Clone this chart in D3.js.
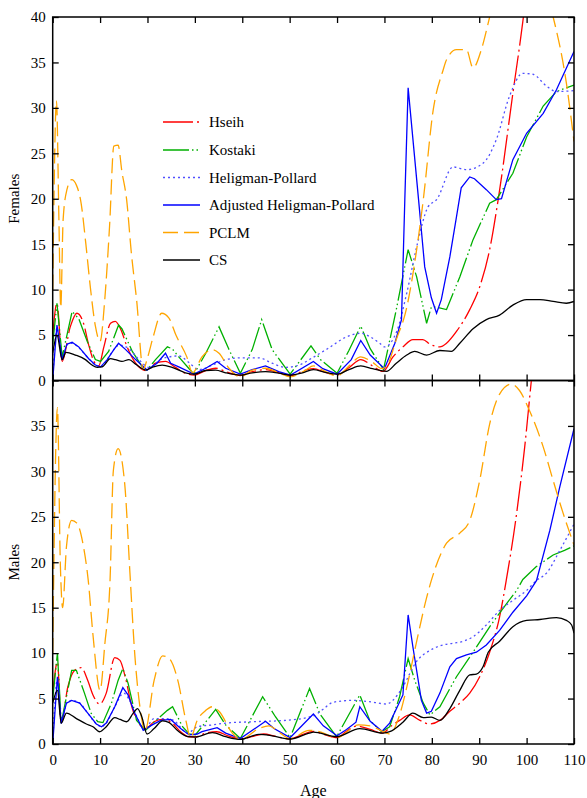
<!DOCTYPE html>
<html>
<head>
<meta charset="utf-8">
<script src="https://cdn.jsdelivr.net/npm/d3@7"></script>
<style>
  html, body { margin: 0; padding: 0; background: #fff; }
  svg { display: block; }
  svg text { font-family: "Liberation Serif", "Times New Roman", serif; fill: #000; }
</style>
</head>
<body>
<svg id="chart" width="587" height="798"></svg>
<script>
// ---- data: [age, value] pairs per method ----
const xTicks = [0, 10, 20, 30, 40, 50, 60, 70, 80, 90, 100, 110];
const yTicksFemales = [0, 5, 10, 15, 20, 25, 30, 35, 40];
const yTicksMales = [0, 5, 10, 15, 20, 25, 30, 35];
const methodNames = ["Hseih", "Kostaki", "Heligman-Pollard", "Adjusted Heligman-Pollard", "PCLM", "CS"];

const femHseih = [[0,5],[0.9,8.5],[2,2.1],[3.7,5.9],[5.1,7.4],[6.5,6.3],[7.6,3.9],[8.7,2.1],[9.7,1.6],[10.8,3.7],[12.2,6.3],[13.2,6.5],[14.3,5.7],[15.7,3.7],[17.5,1.9],[19.6,1.1],[21.7,1.9],[23.8,2.1],[25.9,1.45],[28,0.8],[29.8,0.6],[32.3,1.1],[34.4,1.35],[36.5,0.97],[39.6,0.55],[42.1,0.97],[44.9,1.2],[47.7,0.85],[50.2,0.55],[53.4,1.15],[55,1.3],[57.5,0.9],[60,0.6],[62.5,1.4],[65,2.3],[67.5,1.6],[69.7,1.0],[71.8,2.6],[73.9,3.7],[76,4.5],[78.1,4.5],[79.6,4.0],[81.7,3.7],[83.1,4.1],[85.2,5.4],[88,7.8],[90.1,10.3],[92.2,14.4],[94,19.9],[97.1,31.6],[99.2,39.5],[100,43]];
const femKostaki = [[0,4],[0.9,8.5],[2,2.6],[4.1,7.6],[5.5,6.8],[7.3,4.3],[9,2.3],[10.1,2.1],[11.8,3.2],[13.9,6.1],[14.6,5.7],[16.8,3.2],[18.9,1.5],[19.9,1.15],[21.7,2.3],[24.2,3.7],[25.2,3.5],[26.6,2.6],[28.7,1.35],[29.8,0.7],[32.3,3.0],[35.1,5.9],[37.2,3.4],[39.6,0.8],[42.1,3.4],[44.1,6.7],[46.3,3.4],[50.1,0.7],[54.5,3.8],[56.5,2.3],[60,0.8],[62.5,3.3],[65,6.0],[67,3.5],[69.8,1.2],[72.5,7.8],[75,14.4],[75.9,12.9],[76.8,11.4],[78.9,6.3],[79.9,8.1],[80.6,8.1],[83.1,7.8],[85.9,11.4],[88.7,15.5],[92.2,19.5],[93.6,19.9],[97.1,22.8],[100,26.8],[103.5,30.2],[106.3,31.8],[110,32.5]];
const femHP = [[0,0],[0.9,5.8],[2,2.3],[3,3.9],[4.1,4.1],[5.5,3.6],[7.6,2.4],[9,1.7],[10.1,1.5],[11.5,2.3],[12.9,3.4],[14,3.9],[16.1,3.5],[18.2,2.3],[20.3,1.45],[23.1,2.4],[26.6,2.7],[28.7,2.0],[30.8,1.2],[33.7,1.7],[36.5,2.3],[40,2.5],[43.5,2.5],[46.3,1.9],[49.2,1.45],[52,1.7],[54.8,2.5],[58,3.5],[62,4.8],[65,5.2],[67,4.8],[69,4.1],[70,3.7],[72.6,5.4],[74.7,9.6],[76.8,14.7],[79.2,19.1],[81,19.9],[84.5,23.5],[87.3,23.2],[90.8,23.9],[93.6,26.5],[96.4,31.3],[99.2,33.8],[101.3,33.7],[104.2,32.4],[106.3,31.8],[110,31.9]];
const femAdjHP = [[0,0],[0.9,6.1],[2,2.3],[3,4.0],[4.1,4.2],[5.5,3.7],[7.6,2.4],[9,1.7],[10.1,1.5],[11.5,2.3],[12.9,3.4],[13.9,4.1],[15.4,3.4],[17.5,2.3],[19.9,1.15],[22,1.9],[23.8,3.0],[24.9,1.9],[26.6,1.5],[29.8,0.7],[32.3,1.35],[34.7,2.1],[36.5,1.35],[39.6,0.7],[42.1,1.2],[44.9,1.6],[47.7,0.97],[50.2,0.6],[55,2.1],[57,1.3],[60,0.7],[63,2.3],[65,4.4],[67,2.8],[70,1.3],[72.2,4.1],[73.6,6.7],[74.3,19.9],[75,32.2],[77.2,19.9],[78.5,12.5],[79.9,9.1],[81,7.4],[82,8.9],[83.8,13.6],[85.2,18.0],[86.2,21.2],[88,22.4],[89,22.2],[91.5,21.0],[93.6,19.9],[94.7,20.0],[97.1,24.3],[100,27.2],[103.5,29.4],[106.3,32.0],[110,36.2]];
const femPCLM = [[0,10],[0.8,30.8],[1.3,18],[1.7,8],[2.2,17.7],[3,21],[4,22.1],[5,21.5],[6,19.5],[7,15],[8,10],[9,6],[10,4.3],[11,9],[12,17],[12.9,25.8],[13.8,25.9],[14.6,23],[15.6,19.9],[16.6,14],[17.7,8.9],[19.1,1.2],[20,2.5],[21.2,4.8],[23,7.4],[24.5,6.9],[26,5],[28.3,2.6],[29.5,0.85],[31.5,2.6],[33.7,3.4],[35.1,3.0],[37.2,1.35],[39.6,0.4],[42.1,1.15],[44.9,1.35],[47.7,0.85],[50.1,0.4],[53.4,1.15],[55,1.6],[57.5,1.0],[60,0.5],[62.5,1.6],[65,2.6],[67.5,2.0],[69.5,1.3],[70.5,1.6],[72.5,4.5],[74.6,7.8],[76.8,14.4],[78.2,19.9],[80.3,29.8],[82.4,34.2],[83.1,35.3],[85.2,36.4],[87.3,36.4],[88.7,34.4],[90.5,36.5],[92.2,40],[94,44],[98,48],[102,46],[104,43],[105.6,40],[108.4,32.7],[110,26.3]];
const femCS = [[0,3.0],[0.9,5.0],[2,2.3],[2.8,3.1],[4.8,2.8],[6.9,2.3],[8.3,1.7],[9.4,1.45],[10.4,1.5],[12.2,2.4],[13.2,2.3],[14.6,2.1],[16.1,2.3],[17.5,1.8],[19.6,1.15],[21,1.45],[23.1,1.7],[25.2,1.45],[28,0.85],[29.8,0.7],[32.3,1.1],[34.4,1.15],[36.5,0.85],[39.6,0.6],[42.1,0.85],[44.9,0.97],[47.7,0.8],[50.2,0.6],[52.7,0.85],[55,1.2],[57.5,0.9],[60,0.7],[62.5,1.2],[65,1.6],[67.5,1.3],[70.4,1.0],[72.5,1.9],[74.7,2.8],[76.4,3.2],[78.9,2.8],[81.7,3.3],[84.1,3.2],[85.9,4.1],[88.7,5.7],[91.5,6.7],[94.3,7.2],[97.1,8.3],[100,8.9],[102.8,8.9],[105.6,8.7],[108.4,8.5],[110,8.7]];

const maleHseih = [[0,5.5],[1,9.0],[1.8,2.3],[3.2,6.3],[4.6,8.1],[6,8.4],[7.4,7.0],[8.5,5.4],[9.9,4.4],[11.3,5.6],[13.1,9.5],[14.2,9.2],[15.3,7.4],[16.7,4.1],[18.4,2.1],[19.6,1.7],[21.4,2.45],[23.2,2.7],[24.9,2.45],[27,1.35],[28.8,0.8],[30.2,0.8],[32.3,1.2],[34.6,1.35],[37,0.9],[40,0.55],[42,0.8],[44.5,1.1],[47,0.85],[50,0.55],[52.5,1.0],[55,1.4],[57.5,1.0],[60,0.7],[62,1.4],[64.1,1.98],[67,1.6],[69.5,1.2],[71.5,2.0],[73.2,2.6],[75.3,3.2],[77.5,2.6],[79.6,2.2],[81.7,2.6],[83.8,3.6],[85.9,4.5],[88,5.6],[90.1,7.4],[92.2,10.1],[94.3,14.0],[95.7,18.0],[97.9,25.4],[99.6,32.7],[101,40],[102,45]];
const maleKostaki = [[0,5],[1,10.0],[1.8,2.3],[2.9,5.2],[4,8.1],[5,8.1],[6.7,5.6],[8.1,3.4],[9.5,2.45],[10.6,2.35],[12.4,4.5],[13.8,7.0],[14.8,8.3],[15.9,6.7],[17.7,2.6],[19.6,1.5],[21.8,2.6],[24.2,3.7],[25.3,4.1],[27.4,1.9],[28.8,1.1],[30.1,1.0],[31.5,1.9],[34.4,3.8],[36.5,2.1],[39.6,0.6],[44.3,5.2],[47,3.0],[50.1,0.7],[54.2,6.1],[56.4,3.3],[59.9,0.8],[64.8,5.4],[66.9,2.6],[69.4,1.35],[71.1,1.9],[73.2,5.2],[75,9.4],[76.4,7.0],[78.2,4.5],[79.6,3.2],[81.7,4.1],[85.2,7.4],[88.7,10.1],[92.2,12.9],[95.7,15.4],[97.9,16.9],[99.2,18.1],[102,19.5],[105.6,20.8],[108,21.3],[110,21.8]];
const maleHP = [[0,0],[1,7.2],[1.8,2.3],[2.9,4.5],[4,4.8],[5.7,4.5],[7.4,3.4],[9.2,2.2],[10.3,1.9],[11.3,2.3],[13.1,4.1],[15,5.6],[16,5.0],[17.5,3.3],[19.3,1.6],[21.4,2.8],[24,2.8],[25.5,2.6],[28.5,1.2],[30.5,1.9],[33.7,2.1],[36.5,2.3],[42.1,2.45],[49.2,2.6],[55,3.1],[57,3.8],[59.2,4.6],[63.4,4.8],[67.6,4.6],[70.4,4.4],[72.9,5.5],[73.9,6.3],[76.8,9.1],[79.6,10.3],[81.7,10.8],[84.5,11.1],[86.6,11.3],[88.7,11.8],[91.5,13.1],[94.3,14.7],[97.1,15.8],[100,16.9],[102.1,18.0],[104.2,18.8],[107,21.3],[110,24.2]];
const maleAdjHP = [[0,0],[1,7.4],[1.8,2.3],[2.9,4.5],[4,4.8],[5.7,4.5],[7.4,3.4],[9.2,2.2],[10.3,1.9],[11.3,2.3],[13.1,4.1],[14.8,6.2],[15.9,5.4],[17.3,3.4],[19.1,1.5],[21,2.1],[22.8,2.6],[24.9,2.7],[27,1.7],[28.8,1.0],[30.5,1.1],[31.5,1.35],[34.7,1.8],[36.5,1.2],[39.6,0.6],[44.9,2.5],[46.7,1.7],[50.1,0.7],[55,3.3],[57.1,2.0],[60,0.9],[62,1.6],[64,2.4],[64.8,4.1],[67,2.5],[69.5,1.4],[71.1,2.3],[73.9,5.4],[75,14.2],[76,10.7],[77.8,4.8],[78.9,3.4],[79.9,3.6],[81.7,5.6],[83.8,8.5],[85.2,9.4],[87.3,9.8],[89.4,10.1],[91.5,10.9],[94.3,12.5],[97.1,14.5],[100,16.3],[102.1,18.0],[104.9,23.5],[107,28.3],[110,34.7]];
const malePCLM = [[0,10],[1,37],[1.6,20],[2.1,15],[2.9,21.7],[4,24.6],[5.1,24.3],[6.5,21.7],[7.5,18],[8.5,12],[10,5.9],[11,11],[12.1,18],[12.8,30.1],[13.8,32.5],[15.2,28.6],[16.3,18.8],[17.3,10],[18.4,4.1],[19.5,1.5],[21.4,7.0],[23.2,9.7],[24.6,9.4],[26.4,7.0],[28.1,2.6],[29.1,0.7],[30.5,2.6],[32.3,3.7],[33.7,4.1],[35.1,3.6],[37.9,1.2],[39.6,0.5],[43.5,1.7],[45.6,2.0],[48,1.2],[50.1,0.6],[54.1,1.5],[56,1.4],[60,0.7],[64.5,2.1],[67,2.0],[70,1.3],[71.1,1.1],[73.2,3.2],[75,6.9],[76.8,11.3],[78.9,16.1],[79.9,18.0],[83.1,22.1],[85.9,23.2],[88,24.6],[90.1,29.0],[92.2,35.2],[94.3,38.5],[96.8,39.6],[98.5,38.9],[100.6,36.7],[103.5,32.7],[105.6,29.0],[107.7,25.4],[110,21.9]];
const maleCS = [[0,4.5],[1,5.9],[1.8,2.3],[2.9,3.4],[5,2.8],[7.1,2.2],[8.5,1.9],[9.9,1.35],[11.3,1.9],[13.1,2.9],[14.2,2.7],[15.6,2.45],[17,3.4],[17.9,3.9],[18.8,3.0],[19.9,1.1],[21.4,1.7],[23.2,2.55],[24.6,2.35],[26.4,1.45],[28.5,0.8],[30,0.75],[33.7,1.25],[36.5,0.8],[39.6,0.5],[43.5,1.05],[46.3,0.9],[50.1,0.55],[54.1,1.2],[55,1.3],[59.9,0.8],[64.8,1.7],[69.7,1.2],[71.1,1.35],[73.9,2.4],[76,3.4],[78.2,2.9],[79.9,2.96],[81.7,2.6],[83.8,3.9],[85.9,5.9],[88,7.6],[89.4,7.7],[90.8,8.5],[91.9,10.1],[94.3,11.3],[97.1,12.9],[100,13.6],[102.8,13.7],[106.3,13.9],[108.4,13.6],[109.5,13.1],[110,12.2]];

// ---- styles of the six methods ----
const methodStyle = [
  { color: "#ff0000", dash: "30,4,2,4", curve: d3.curveMonotoneX },
  { color: "#00b000", dash: "26,3,1.5,3,1.5,3", curve: d3.curveLinear },
  { color: "#5050ff", dash: "2,3", curve: d3.curveMonotoneX },
  { color: "#0000ff", dash: null, curve: d3.curveLinear },
  { color: "#ffa500", dash: "15,6", curve: d3.curveMonotoneX },
  { color: "#000000", dash: null, curve: d3.curveMonotoneX }
];

const panels = [
  { label: "Females", series: [femHseih, femKostaki, femHP, femAdjHP, femPCLM, femCS], top: 17, bottom: 380.5, ticks: yTicksFemales, xLabels: false },
  { label: "Males", series: [maleHseih, maleKostaki, maleHP, maleAdjHP, malePCLM, maleCS], top: 380.5, bottom: 744, ticks: yTicksMales, xLabels: true }
];

const FONT = "'Liberation Serif', 'Times New Roman', serif";
const left = 52.7, right = 574;
const svg = d3.select("#chart");
const x = d3.scaleLinear().domain([0, 110]).range([left, right]);

panels.forEach((p, i) => {
  const y = d3.scaleLinear().domain([0, 40]).range([p.bottom, p.top]);
  const clipId = "clip" + i;
  svg.append("clipPath").attr("id", clipId)
    .append("rect").attr("x", left).attr("y", p.top)
    .attr("width", right - left).attr("height", p.bottom - p.top);

  const g = svg.append("g").attr("clip-path", `url(#${clipId})`);
  p.series.forEach((s, k) => {
    const st = methodStyle[k];
    const line = d3.line().x(d => x(d[0])).y(d => y(d[1])).curve(st.curve);
    g.append("path").datum(s)
      .attr("d", line)
      .attr("fill", "none")
      .attr("stroke", st.color)
      .attr("stroke-width", 1.3)
      .attr("stroke-dasharray", st.dash);
  });

  // axes with inward ticks on all four sides
  const axL = svg.append("g").attr("transform", `translate(${left},0)`)
    .call(d3.axisLeft(y).tickValues(p.ticks).tickSize(-6).tickPadding(7).tickFormat(d3.format("d")));
  const axR = svg.append("g").attr("transform", `translate(${right},0)`)
    .call(d3.axisRight(y).tickValues(p.ticks).tickSize(-6).tickFormat(""));
  const axT = svg.append("g").attr("transform", `translate(0,${p.top})`)
    .call(d3.axisTop(x).tickValues(xTicks).tickSize(-6).tickFormat(""));
  const axB = svg.append("g").attr("transform", `translate(0,${p.bottom})`)
    .call(d3.axisBottom(x).tickValues(xTicks).tickSize(-6).tickPadding(10)
      .tickFormat(p.xLabels ? d3.format("d") : ""));
  [axL, axR, axT, axB].forEach(a => {
    a.attr("font-family", FONT).attr("font-size", 15);
    a.select(".domain").remove();
    a.selectAll(".tick line").attr("stroke", "#000").attr("stroke-width", 1.3);
    a.selectAll(".tick text").attr("font-family", FONT).attr("font-size", 15).attr("fill", "#000");
  });

  svg.append("rect").attr("x", left).attr("y", p.top)
    .attr("width", right - left).attr("height", p.bottom - p.top)
    .attr("fill", "none").attr("stroke", "#000").attr("stroke-width", 1.5);

  svg.append("text")
    .attr("transform", `translate(19,${(p.top + p.bottom) / 2}) rotate(-90)`)
    .attr("text-anchor", "middle")
    .attr("font-family", FONT).attr("font-size", 15)
    .text(p.label);
});

svg.append("text").attr("x", (left + right) / 2).attr("y", 796)
  .attr("text-anchor", "middle").attr("font-family", FONT).attr("font-size", 16).text("Age");

// legend
const legendY = [122, 150, 177.5, 205, 232.5, 260];
const lg = svg.append("g");
methodNames.forEach((name, k) => {
  const st = methodStyle[k];
  lg.append("line").attr("x1", 163).attr("x2", 200)
    .attr("y1", legendY[k]).attr("y2", legendY[k])
    .attr("stroke", st.color).attr("stroke-width", 1.3)
    .attr("stroke-dasharray", st.dash);
  lg.append("text").attr("x", 209).attr("y", legendY[k]).attr("dy", "0.35em")
    .attr("font-family", FONT).attr("font-size", 15).text(name);
});
</script>
</body>
</html>
